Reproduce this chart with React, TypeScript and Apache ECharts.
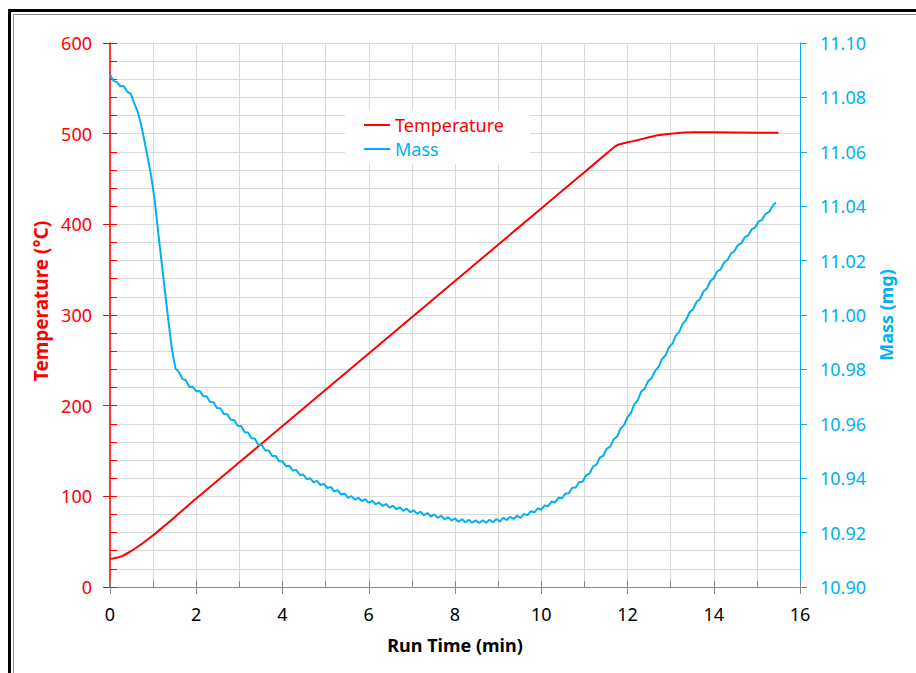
import React, { useEffect, useRef } from "react";
import * as echarts from "echarts";

// Heating program readings (time in minutes, temperature in °C)
const TEMP_TIME = [0, 0.25, 0.5, 0.75, 1, 1.25, 1.5, 2, 4, 6, 8, 10, 11, 11.5, 11.7, 11.8, 12, 12.25, 12.5, 12.75, 13, 13.25, 13.5, 14, 15, 15.5];
const TEMPERATURE = [31, 33.5, 40, 48, 57, 67, 77, 97.5, 177.5, 257.5, 337.5, 417.5, 457.5, 477.5, 485.5, 488, 490.5, 493, 496, 498.5, 500, 501, 501.5, 501.5, 501, 501];

// Sample mass readings (mg), one every MASS_STEP minutes starting at t = 0
const MASS_STEP = 0.08;
const MASS = [
  11.0883, 11.0861, 11.0856, 11.0841, 11.0842, 11.0821, 11.0813, 11.078, 11.0748, 11.0701,
  11.0639, 11.0574, 11.0506, 11.0418, 11.03, 11.019, 11.008, 10.997, 10.987, 10.9803,
  10.979, 10.9765, 10.976, 10.9735, 10.9736, 10.972, 10.9721, 10.9701, 10.9701, 10.968,
  10.9679, 10.9658, 10.9657, 10.9636, 10.9635, 10.9615, 10.9614, 10.9593, 10.9592, 10.957,
  10.9568, 10.9547, 10.9545, 10.9523, 10.9522, 10.9502, 10.9502, 10.9482, 10.9482, 10.9462,
  10.9462, 10.9444, 10.9446, 10.9428, 10.943, 10.9412, 10.9414, 10.9396, 10.94, 10.9385,
  10.939, 10.9375, 10.9379, 10.9364, 10.9368, 10.9352, 10.9356, 10.934, 10.9344, 10.9328,
  10.9334, 10.9321, 10.9328, 10.9316, 10.9323, 10.931, 10.9317, 10.9304, 10.9311, 10.9298,
  10.9305, 10.9292, 10.9299, 10.9286, 10.9293, 10.928, 10.9288, 10.9275, 10.9282, 10.9269,
  10.9277, 10.9264, 10.9272, 10.9259, 10.9267, 10.9254, 10.9262, 10.9249, 10.9257, 10.9244,
  10.9252, 10.924, 10.9249, 10.9238, 10.9247, 10.9236, 10.9245, 10.9235, 10.9245, 10.9236,
  10.9247, 10.9238, 10.925, 10.9241, 10.9254, 10.9246, 10.9258, 10.925, 10.9262, 10.9254,
  10.9269, 10.9264, 10.9279, 10.9274, 10.9289, 10.9284, 10.93, 10.9297, 10.9314, 10.9311,
  10.9328, 10.9326, 10.9344, 10.9345, 10.9365, 10.9366, 10.9386, 10.9387, 10.9411, 10.9417,
  10.9443, 10.945, 10.9476, 10.9483, 10.9509, 10.9516, 10.9543, 10.9553, 10.9583, 10.9595,
  10.9624, 10.964, 10.9672, 10.9687, 10.9719, 10.973, 10.9757, 10.9768, 10.9795, 10.9809,
  10.9838, 10.9851, 10.9881, 10.9894, 10.9924, 10.9938, 10.9968, 10.9982, 11.001, 11.0021,
  11.0048, 11.0059, 11.0086, 11.0097, 11.0124, 11.0135, 11.016, 11.0168, 11.0193, 11.0202,
  11.0226, 11.0235, 11.0257, 11.0264, 11.0286, 11.0293, 11.0315, 11.0322, 11.0344, 11.035,
  11.0372, 11.0378, 11.04, 11.0414,
];

const X_TICKS = { min: 0, max: 16, major: 2, minor: 1 };
const TEMP_AXIS = { min: 0, max: 600, major: 100, minor: 20 };
const MASS_AXIS = { min: 10.9, max: 11.1, major: 0.02 };

const RED = "#ff0000";
const BLUE = "#00b0f0";
const GRID = "#d9d9d9";
const AXIS_GRAY = "#868686";
const FONT = "Noto Sans";

export default function App() {
  const ref = useRef<HTMLDivElement>(null);

  useEffect(() => {
    document.body.style.margin = "0";
    if (!ref.current) return;
    const chart = echarts.init(ref.current, null, { renderer: "svg" });

    const tempData = TEMP_TIME.map((t, i) => [t, TEMPERATURE[i]]);
    const massData = MASS.map((m, i) => [+(i * MASS_STEP).toFixed(2), m]);

    chart.setOption({
      animation: false,
      backgroundColor: "#ffffff",
      textStyle: { fontFamily: FONT },
      grid: { left: 110, right: 116, top: 43, bottom: 86, containLabel: false },
      graphic: [
        {
          type: "polyline",
          silent: true,
          shape: { points: [[9.5, 673], [9.5, 10.5], [916, 10.5]] },
          style: { stroke: "#000", lineWidth: 3, fill: null },
        },
        {
          type: "polyline",
          silent: true,
          shape: { points: [[13.5, 673], [13.5, 14.5], [916, 14.5]] },
          style: { stroke: "#8c8c8c", lineWidth: 1, fill: null },
        },
      ],
      legend: {
        show: true,
        orient: "vertical",
        left: 345,
        top: 110,
        backgroundColor: "#ffffff",
        padding: [5, 26, 5, 19],
        itemWidth: 26,
        itemHeight: 2,
        itemGap: 4,
        icon: "rect",
        selectedMode: false,
        textStyle: { fontSize: 18, fontFamily: FONT, lineHeight: 20 },
        data: [
          { name: "Temperature", textStyle: { color: RED } },
          { name: "Mass", textStyle: { color: BLUE } },
        ],
      },
      xAxis: [
        {
          type: "value",
          position: "bottom",
          min: X_TICKS.min,
          max: X_TICKS.max,
          interval: X_TICKS.major,
          axisLine: { show: true, onZero: false, lineStyle: { color: AXIS_GRAY, width: 1 } },
          axisTick: { show: true, length: 7, lineStyle: { color: AXIS_GRAY } },
          axisLabel: { color: "#000", fontSize: 18, margin: 18, fontFamily: FONT },
          splitLine: { show: false },
          name: "Run Time (min)",
          nameLocation: "middle",
          nameGap: 49,
          nameTextStyle: { color: "#000", fontSize: 18, fontWeight: "bold", fontFamily: FONT },
        },
        {
          type: "value",
          position: "bottom",
          min: X_TICKS.min,
          max: X_TICKS.max,
          interval: X_TICKS.minor,
          axisLine: { show: false, onZero: false },
          axisTick: { show: true, inside: true, length: 6, lineStyle: { color: AXIS_GRAY } },
          axisLabel: { show: false },
          splitLine: { show: true, lineStyle: { color: GRID, width: 1 } },
        },
      ],
      yAxis: [
        {
          type: "value",
          position: "left",
          min: TEMP_AXIS.min,
          max: TEMP_AXIS.max,
          interval: TEMP_AXIS.major,
          axisLine: { show: true, onZero: false, lineStyle: { color: RED, width: 1.5 } },
          axisTick: { show: true, length: 7, lineStyle: { color: RED } },
          axisLabel: { color: RED, fontSize: 18, margin: 18, fontFamily: FONT },
          splitLine: { show: false },
          name: "Temperature (°C)",
          nameLocation: "middle",
          nameGap: 55,
          nameRotate: 90,
          nameTextStyle: { color: RED, fontSize: 19, fontWeight: "bold", fontFamily: FONT, padding: [0, 0, 0, 28] },
        },
        {
          type: "value",
          position: "right",
          min: MASS_AXIS.min,
          max: MASS_AXIS.max,
          interval: MASS_AXIS.major,
          axisLine: { show: true, onZero: false, lineStyle: { color: BLUE, width: 1 } },
          axisTick: { show: true, length: 7, lineStyle: { color: BLUE } },
          axisLabel: {
            color: BLUE,
            fontSize: 18,
            margin: 20,
            fontFamily: FONT,
            formatter: (v: number) => v.toFixed(2),
          },
          splitLine: { show: false },
          name: "Mass (mg)",
          nameLocation: "middle",
          nameGap: 77,
          nameRotate: 90,
          nameTextStyle: { color: BLUE, fontSize: 18, fontWeight: "bold", fontFamily: FONT },
        },
        {
          type: "value",
          position: "left",
          min: TEMP_AXIS.min,
          max: TEMP_AXIS.max,
          interval: TEMP_AXIS.minor,
          axisLine: { show: false, onZero: false },
          axisTick: { show: true, inside: true, length: 7, lineStyle: { color: RED } },
          axisLabel: { show: false },
          splitLine: { show: true, lineStyle: { color: GRID, width: 1 } },
        },
      ],
      series: [
        {
          name: "Temperature",
          type: "line",
          xAxisIndex: 0,
          yAxisIndex: 0,
          data: tempData,
          smooth: 0.3,
          symbol: "none",
          lineStyle: { color: RED, width: 2 },
          itemStyle: { color: RED },
          z: 3,
        },
        {
          name: "Mass",
          type: "line",
          xAxisIndex: 0,
          yAxisIndex: 1,
          data: massData,
          symbol: "none",
          lineStyle: { color: BLUE, width: 2 },
          itemStyle: { color: BLUE },
          z: 3,
        },
      ],
    });

    return () => chart.dispose();
  }, []);

  return <div ref={ref} style={{ width: 916, height: 673 }} />;
}
